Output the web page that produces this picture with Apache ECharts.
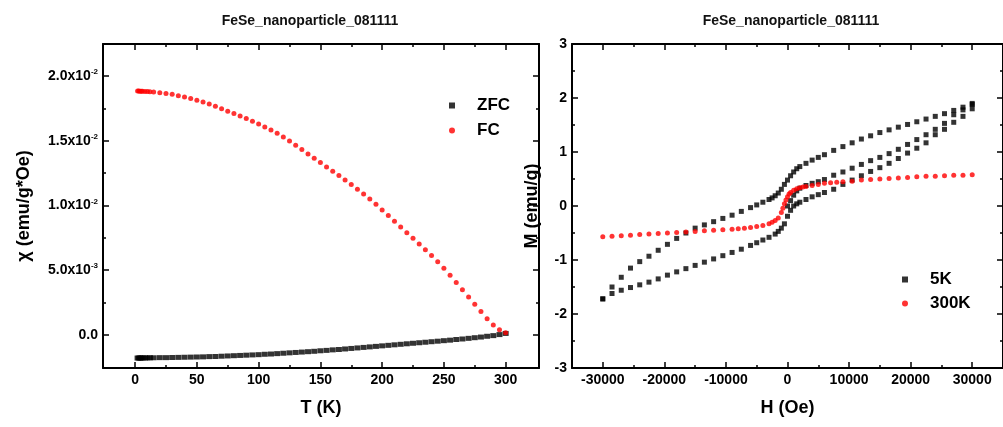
<!DOCTYPE html>
<html><head><meta charset="utf-8">
<script src="https://cdn.jsdelivr.net/npm/echarts@6/dist/echarts.min.js"></script>
<style>html,body{margin:0;padding:0;background:#fff}#c{width:1003px;height:427px}</style>
</head><body><div id="c"></div>
<script>
// ---------- Left panel: chi vs T ----------
const T = [2,3,4,5,6,8,10,12,15,20,25,30,35,40,45,50,55,60,65,70,75,80,85,90,95,100,105,110,115,120,125,130,135,140,145,150,155,160,165,170,175,180,185,190,195,200,205,210,215,220,225,230,235,240,245,250,255,260,265,270,275,280,285,290,295,300];
const chiZFC = [-0.00178,-0.00178,-0.00178,-0.00178,-0.00177,-0.00177,-0.00177,-0.00176,-0.00176,-0.00175,-0.00175,-0.00174,-0.00173,-0.00172,-0.00171,-0.00170,-0.00169,-0.00167,-0.00166,-0.00164,-0.00162,-0.00160,-0.00158,-0.00156,-0.00154,-0.00152,-0.00149,-0.00147,-0.00144,-0.00141,-0.00138,-0.00135,-0.00132,-0.00129,-0.00126,-0.00122,-0.00119,-0.00115,-0.00112,-0.00108,-0.00104,-0.00100,-0.00096,-0.00092,-0.00088,-0.00084,-0.00080,-0.00076,-0.00072,-0.00068,-0.00064,-0.00060,-0.00056,-0.00052,-0.00048,-0.00044,-0.00040,-0.00035,-0.00031,-0.00026,-0.00021,-0.00016,-0.00010,-0.00005,0.00003,0.00012];
const chiFC = [0.01884,0.01884,0.01883,0.01883,0.01882,0.01881,0.01880,0.01878,0.01876,0.01871,0.01865,0.01858,0.01848,0.01838,0.01826,0.01813,0.01800,0.01783,0.01766,0.01747,0.01728,0.01710,0.01691,0.01672,0.01651,0.01630,0.01607,0.01583,0.01558,0.01528,0.01497,0.01465,0.01432,0.01398,0.01365,0.01331,0.01298,0.01264,0.01231,0.01197,0.01162,0.01126,0.01089,0.01050,0.01009,0.00966,0.00922,0.00878,0.00834,0.00790,0.00747,0.00703,0.00659,0.00614,0.00566,0.00515,0.00461,0.00406,0.00350,0.00294,0.00238,0.00182,0.00126,0.00078,0.00040,0.00018];
const tMajor = [0,50,100,150,200,250,300];
const tMinor = [25,75,125,175,225,275];
const chiMajor = [0,0.005,0.01,0.015,0.02];
const chiMinor = [0.0025,0.0075,0.0125,0.0175];
const chiLabelMain = ['0.0','5.0x10','1.0x10','1.5x10','2.0x10'];
const chiLabelExp = ['','-3','-2','-2','-2'];

// ---------- Right panel: M vs H ----------
const H5K_down = [30000,28500,27000,25500,24000,22500,21000,19500,18000,16500,15000,13500,12000,10500,9000,7500,6000,5000,4000,3000,2000,1500,1000,500,0,-500,-1000,-1500,-2000,-2500,-3000,-4000,-5000,-6000,-7500,-9000,-10500,-12000,-13500,-15000,-16500,-18000,-19500,-21000,-22500,-24000,-25500,-27000,-28500,-30000];
const M5K_down = [1.90,1.83,1.77,1.71,1.66,1.61,1.56,1.51,1.46,1.41,1.36,1.30,1.24,1.17,1.10,1.03,0.95,0.90,0.85,0.79,0.73,0.69,0.63,0.56,0.48,0.40,0.31,0.24,0.19,0.15,0.12,0.07,0.02,-0.03,-0.10,-0.17,-0.23,-0.29,-0.35,-0.41,-0.50,-0.60,-0.71,-0.82,-0.93,-1.03,-1.15,-1.32,-1.50,-1.72];
const H5K_up = [-30000,-28500,-27000,-25500,-24000,-22500,-21000,-19500,-18000,-16500,-15000,-13500,-12000,-10500,-9000,-7500,-6000,-5000,-4000,-3000,-2000,-1500,-1000,-500,0,500,1000,1500,2000,3000,4000,5000,6000,7500,9000,10500,12000,13500,15000,16500,18000,19500,21000,22500,24000,25500,27000,28500,30000];
const M5K_up = [-1.72,-1.62,-1.56,-1.51,-1.46,-1.41,-1.35,-1.28,-1.22,-1.16,-1.10,-1.04,-0.98,-0.92,-0.86,-0.80,-0.73,-0.68,-0.63,-0.58,-0.52,-0.47,-0.41,-0.33,-0.19,-0.08,0.00,0.04,0.07,0.12,0.17,0.21,0.25,0.31,0.40,0.48,0.56,0.64,0.71,0.79,0.88,0.98,1.07,1.17,1.32,1.42,1.55,1.66,1.80];
const H5K_virgin = [0,500,1000,1500,2000,3000,4000,5000,6000,7500,9000,10500,12000,13500,15000,16500,18000,19500,21000,22500,24000,25500,27000,28500,30000];
const M5K_virgin = [0.00,0.10,0.20,0.28,0.33,0.38,0.42,0.45,0.49,0.57,0.63,0.70,0.77,0.84,0.90,0.97,1.05,1.14,1.23,1.32,1.42,1.53,1.69,1.78,1.88];
const H300K = [-30000,-28500,-27000,-25500,-24000,-22500,-21000,-19500,-18000,-16500,-15000,-13500,-12000,-10500,-9000,-8000,-7000,-6000,-5000,-4000,-3000,-2500,-2000,-1500,-1000,-750,-500,-250,0,250,500,1000,1500,2000,2500,3000,4000,5000,6000,7000,8000,9000,10500,12000,13500,15000,16500,18000,19500,21000,22500,24000,25500,27000,28500,30000];
const M300K = [-0.57,-0.56,-0.55,-0.54,-0.53,-0.52,-0.51,-0.50,-0.49,-0.48,-0.47,-0.46,-0.45,-0.44,-0.43,-0.42,-0.41,-0.40,-0.38,-0.36,-0.33,-0.30,-0.27,-0.22,-0.12,-0.04,0.04,0.11,0.17,0.22,0.25,0.29,0.32,0.34,0.35,0.36,0.38,0.40,0.42,0.43,0.44,0.45,0.46,0.48,0.49,0.50,0.51,0.52,0.53,0.54,0.55,0.55,0.56,0.57,0.57,0.58];
const hMajor = [-30000,-20000,-10000,0,10000,20000,30000];
const hMinor = [-25000,-15000,-5000,5000,15000,25000];
const mMajor = [-3,-2,-1,0,1,2,3];
const mMinor = [-2.5,-1.5,-0.5,0.5,1.5,2.5];

const titleText = 'FeSe_nanoparticle_081111';
const FONT = 'Liberation Sans, Arial, sans-serif';
const TICK_FS = 14;
const NAME_FS = 18;

function zip(a,b){return a.map((v,i)=>[v,b[i]]);}
const plain = v => String(v);

const lineStyle = {color:'#000', width:2};
function axisSet(grid, min, max, major, minor, pos1, pos2, extra1){
  const base = {type:'value', gridIndex:grid, min:min, max:max, splitLine:{show:false}, scale:false};
  const mk = (pos, vals, len, showLine, showLabel, ex) => Object.assign({}, base, {
    position:pos,
    axisLine:{show:showLine, onZero:false, lineStyle:lineStyle},
    axisTick:{show:true, inside:true, length:len, customValues:vals, lineStyle:{color:'#000', width:1.5}},
    axisLabel:{show:showLabel, customValues:major, color:'#000', fontFamily:FONT, fontWeight:'bold', fontSize:TICK_FS, margin:5, formatter:plain},
  }, ex||{});
  return [
    mk(pos1, major, 6, true, true, extra1),
    mk(pos1, minor, 3, false, false),
    mk(pos2, major, 6, true, false),
    mk(pos2, minor, 3, false, false)
  ];
}
const nameStyle = {fontFamily:FONT, fontWeight:'bold', fontSize:NAME_FS, color:'#000'};

const xAxes = [].concat(
  axisSet(0,-26,327,tMajor,tMinor,'bottom','top',{name:'T (K)', nameLocation:'middle', nameGap:31, nameTextStyle:nameStyle}),
  axisSet(1,-35000,35000,hMajor,hMinor,'bottom','top',{name:'H (Oe)', nameLocation:'middle', nameGap:31, nameTextStyle:nameStyle})
);
const yAxes = [].concat(
  axisSet(0,-0.00255,0.02247,chiMajor,chiMinor,'left','right',{name:'χ (emu/g*Oe)', nameLocation:'middle', nameGap:70,
    nameTextStyle:nameStyle,
    axisLabel:{show:true, customValues:chiMajor, margin:5, color:'#000',
      formatter:function(v){
        const i = chiMajor.findIndex(x=>Math.abs(x-v)<1e-9);
        if(i<0) return '';
        return chiLabelExp[i] ? '{m|'+chiLabelMain[i]+'}{s|'+chiLabelExp[i]+'}' : '{m|'+chiLabelMain[i]+'}';
      },
      rich:{m:{fontFamily:FONT, fontWeight:'bold', fontSize:TICK_FS, color:'#000', lineHeight:16},
            s:{fontFamily:FONT, fontWeight:'bold', fontSize:8, color:'#000', verticalAlign:'top', lineHeight:16}}}}),
  axisSet(1,-3,3,mMajor,mMinor,'left','right',{name:'M (emu/g)', nameLocation:'middle', nameGap:31, nameTextStyle:nameStyle})
);

const chart = echarts.init(document.getElementById('c'), null, {renderer:'canvas'});
chart.setOption({
  animation:false,
  backgroundColor:'#fff',
  title:[
    {text:titleText, left:305, top:9, textAlign:'center', textStyle:{fontFamily:FONT, fontWeight:'bold', fontSize:14, color:'#111'}},
    {text:titleText, left:786, top:9, textAlign:'center', textStyle:{fontFamily:FONT, fontWeight:'bold', fontSize:14, color:'#111'}}
  ],
  grid:[
    {left:103, right:464, top:44, bottom:59, containLabel:false},
    {left:572, right:-4, top:44, bottom:59, containLabel:false}
  ],
  legend:[
    {data:['ZFC','FC'], orient:'vertical', left:444, top:92, itemWidth:6, itemHeight:6, itemGap:8,
     textStyle:{fontFamily:FONT, fontWeight:'bold', fontSize:17, color:'#000', padding:[0,0,0,17]}},
    {data:['5K','300K'], orient:'vertical', left:897, top:266, itemWidth:6, itemHeight:6, itemGap:7,
     textStyle:{fontFamily:FONT, fontWeight:'bold', fontSize:17, color:'#000', padding:[0,0,0,17]}}
  ],
  xAxis:xAxes,
  yAxis:yAxes,
  series:[
    {name:'ZFC', type:'scatter', xAxisIndex:0, yAxisIndex:0, symbol:'rect', symbolSize:[6,5], itemStyle:{color:'#000'}, data:zip(T,chiZFC)},
    {name:'FC', type:'scatter', xAxisIndex:0, yAxisIndex:0, symbol:'circle', symbolSize:5, itemStyle:{color:'#ff0000'}, data:zip(T,chiFC)},
    {name:'5K', type:'scatter', xAxisIndex:4, yAxisIndex:4, symbol:'rect', symbolSize:5, itemStyle:{color:'#000'},
     data:zip(H5K_virgin,M5K_virgin).concat(zip(H5K_down,M5K_down), zip(H5K_up,M5K_up))},
    {name:'300K', type:'scatter', xAxisIndex:4, yAxisIndex:4, symbol:'circle', symbolSize:5, itemStyle:{color:'#ff0000'}, data:zip(H300K,M300K)}
  ]
});
</script></body></html>
